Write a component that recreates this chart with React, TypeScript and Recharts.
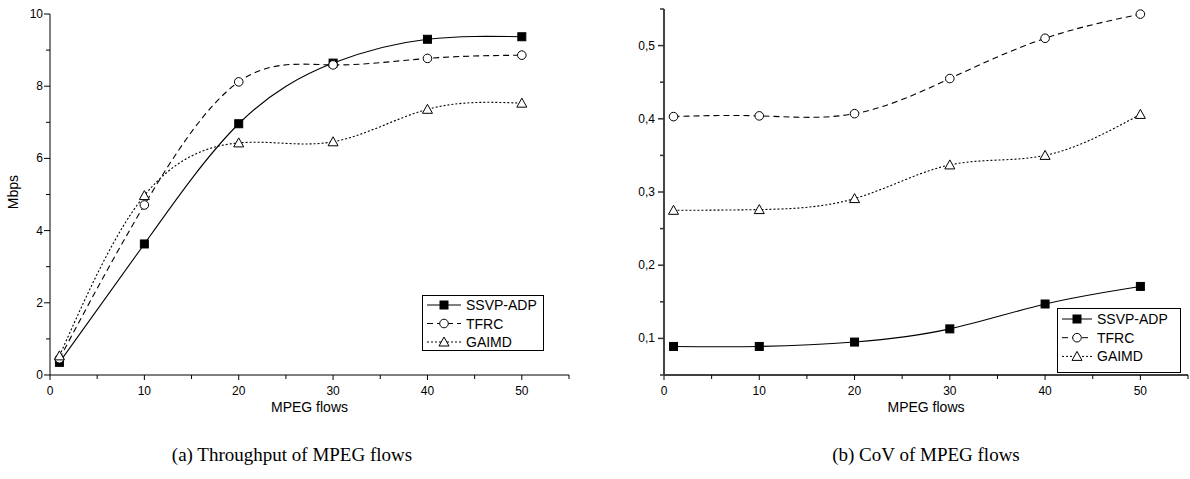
import React from 'react';
import { LineChart, Line, XAxis, YAxis } from 'recharts';

const flows = [1, 10, 20, 30, 40, 50];
const seriesNames = ['SSVP-ADP', 'TFRC', 'GAIMD'];

const throughputSSVP = [0.35, 3.63, 6.96, 8.64, 9.3, 9.37];
const throughputTFRC = [0.45, 4.71, 8.12, 8.59, 8.77, 8.86];
const throughputGAIMD = [0.53, 4.97, 6.43, 6.46, 7.36, 7.53];

const covSSVP = [0.089, 0.089, 0.095, 0.113, 0.147, 0.171];
const covTFRC = [0.403, 0.404, 0.407, 0.455, 0.51, 0.543];
const covGAIMD = [0.275, 0.276, 0.291, 0.337, 0.35, 0.406];

const xTicks = [0, 5, 10, 15, 20, 25, 30, 35, 40, 45, 50, 55];
const yTicksA = [0, 1, 2, 3, 4, 5, 6, 7, 8, 9, 10];
const yTicksB = [0.05, 0.1, 0.15, 0.2, 0.25, 0.3, 0.35, 0.4, 0.45, 0.5, 0.55];

const captionA = '(a) Throughput of MPEG flows';
const captionB = '(b) CoV of MPEG flows';
const xTitle = 'MPEG flows';
const yTitleA = 'Mbps';

const dataA = flows.map((f, i) => ({ flow: f, ssvp: throughputSSVP[i], tfrc: throughputTFRC[i], gaimd: throughputGAIMD[i] }));
const dataB = flows.map((f, i) => ({ flow: f, ssvp: covSSVP[i], tfrc: covTFRC[i], gaimd: covGAIMD[i] }));

const SANS = '"Liberation Sans", Arial, sans-serif';
const SERIF = '"Liberation Serif", "Times New Roman", serif';

const SquareDot = (p: any) => {
  const { cx, cy } = p;
  if (cx == null || cy == null) return null;
  return <rect x={cx - 4} y={cy - 4} width={8} height={8} fill="#000" stroke="#000" strokeWidth={1} />;
};
const CircleDot = (p: any) => {
  const { cx, cy } = p;
  if (cx == null || cy == null) return null;
  return <circle cx={cx} cy={cy} r={4.3} fill="#fff" stroke="#000" strokeWidth={1} />;
};
const TriDot = (p: any) => {
  const { cx, cy } = p;
  if (cx == null || cy == null) return null;
  return <path d={`M${cx},${cy - 5} L${cx + 5},${cy + 4} L${cx - 5},${cy + 4} Z`} fill="#fff" stroke="#000" strokeWidth={1} />;
};

const XTick = (p: any) => {
  const { x, y, payload } = p;
  const v = payload.value;
  const major = Math.round(v) % 10 === 0;
  return (
    <g>
      <line x1={x} x2={x} y1={y} y2={y + (major ? 5 : 4)} stroke="#000" strokeWidth={1} />
      {major && (
        <text x={x} y={y + 20} textAnchor="middle" fontSize={12} fontFamily={SANS} fill="#000">
          {v}
        </text>
      )}
    </g>
  );
};

const YTickA = (p: any) => {
  const { x, y, payload } = p;
  const v = payload.value;
  const major = Math.round(v) % 2 === 0;
  return (
    <g>
      <line x1={x} x2={x - (major ? 6 : 4)} y1={y} y2={y} stroke="#000" strokeWidth={1} />
      {major && (
        <text x={x - 7} y={y + 4} textAnchor="end" fontSize={12} fontFamily={SANS} fill="#000">
          {v}
        </text>
      )}
    </g>
  );
};

const YTickB = (p: any) => {
  const { x, y, payload } = p;
  const v = payload.value;
  const major = Math.abs(v * 10 - Math.round(v * 10)) < 1e-6;
  return (
    <g>
      <line x1={x} x2={x - (major ? 6 : 4)} y1={y} y2={y} stroke="#333" strokeWidth={1.5} />
      {major && (
        <text x={x - 9} y={y + 4} textAnchor="end" fontSize={12} fontFamily={SANS} fill="#000">
          {v.toFixed(1).replace('.', ',')}
        </text>
      )}
    </g>
  );
};

const styles = [
  { key: 'ssvp', dash: undefined as string | undefined, Dot: SquareDot },
  { key: 'tfrc', dash: '6 4', Dot: CircleDot },
  { key: 'gaimd', dash: '2 2', Dot: TriDot },
];

const LegendBox = ({ left, top, width, height, rowTop, rowGap, textX }: any) => (
  <svg style={{ position: 'absolute', left, top }} width={width} height={height}>
    <rect x={0.5} y={0.5} width={width - 1} height={height - 1} fill="#fff" stroke="#000" strokeWidth={1} />
    {seriesNames.map((name, i) => {
      const cy = rowTop + i * rowGap;
      const s = styles[i];
      const D = s.Dot;
      return (
        <g key={name}>
          <line x1={5} x2={textX - 5} y1={cy} y2={cy} stroke="#000" strokeWidth={1} strokeDasharray={s.dash} />
          <D cx={(5 + textX - 5) / 2} cy={cy} />
          <text x={textX} y={cy + 5} fontSize={14} fontFamily={SANS} fill="#000">
            {name}
          </text>
        </g>
      );
    })}
  </svg>
);

export default function App() {
  return (
    <div style={{ position: 'absolute', left: 0, top: 0, width: 1190, height: 479, background: '#fff' }}>
      <div style={{ position: 'absolute', left: 0, top: 0 }}>
        <LineChart width={600} height={479} data={dataA} margin={{ top: 14, right: 31, bottom: 74, left: 10 }}>
          <XAxis
            dataKey="flow"
            type="number"
            domain={[0, 55]}
            ticks={xTicks}
            interval={0}
            tickLine={false}
            tickSize={0}
            tickMargin={0}
            tick={<XTick />}
            axisLine={{ stroke: '#000', strokeWidth: 1 }}
            height={30}
          />
          <YAxis
            type="number"
            domain={[0, 10]}
            ticks={yTicksA}
            interval={0}
            tickLine={false}
            tickSize={0}
            tickMargin={0}
            tick={<YTickA />}
            axisLine={{ stroke: '#000', strokeWidth: 1 }}
            width={40}
          />
          {styles.map((s) => (
            <Line
              key={s.key}
              dataKey={s.key}
              type="natural"
              stroke="#000"
              strokeWidth={1.1}
              strokeDasharray={s.dash}
              dot={<s.Dot />}
              activeDot={false}
              isAnimationActive={false}
            />
          ))}
        </LineChart>
      </div>
      <div style={{ position: 'absolute', left: 600, top: 0 }}>
        <LineChart width={590} height={479} data={dataB} margin={{ top: 9, right: 2, bottom: 74, left: 20 }}>
          <XAxis
            dataKey="flow"
            type="number"
            domain={[0, 55]}
            ticks={xTicks}
            interval={0}
            tickLine={false}
            tickSize={0}
            tickMargin={0}
            tick={<XTick />}
            axisLine={{ stroke: '#000', strokeWidth: 1.5 }}
            height={30}
          />
          <YAxis
            type="number"
            domain={[0.05, 0.55]}
            ticks={yTicksB}
            interval={0}
            tickLine={false}
            tickSize={0}
            tickMargin={0}
            tick={<YTickB />}
            axisLine={{ stroke: '#444', strokeWidth: 2 }}
            width={44}
          />
          {styles.map((s) => (
            <Line
              key={s.key}
              dataKey={s.key}
              type="natural"
              stroke="#000"
              strokeWidth={1.1}
              strokeDasharray={s.dash}
              dot={<s.Dot />}
              activeDot={false}
              isAnimationActive={false}
            />
          ))}
        </LineChart>
      </div>
      <LegendBox left={422} top={295} width={122} height={56} rowTop={10} rowGap={18.5} textX={44} />
      <LegendBox left={1057} top={308} width={124} height={65} rowTop={11} rowGap={18.7} textX={40} />
      <svg style={{ position: 'absolute', left: 0, top: 0, pointerEvents: 'none' }} width={1190} height={479}>
        <text x={309.5} y={412} textAnchor="middle" fontSize={14} fontFamily={SANS} fill="#000">{xTitle}</text>
        <text x={926} y={412} textAnchor="middle" fontSize={14} fontFamily={SANS} fill="#000">{xTitle}</text>
        <text x={17.5} y={192} textAnchor="middle" fontSize={14} fontFamily={SANS} fill="#000" transform="rotate(-90 17.5 192)">{yTitleA}</text>
        <text x={292} y={461} textAnchor="middle" fontSize={19} fontFamily={SERIF} fill="#000">{captionA}</text>
        <text x={926} y={461} textAnchor="middle" fontSize={19} fontFamily={SERIF} fill="#000">{captionB}</text>
      </svg>
    </div>
  );
}
